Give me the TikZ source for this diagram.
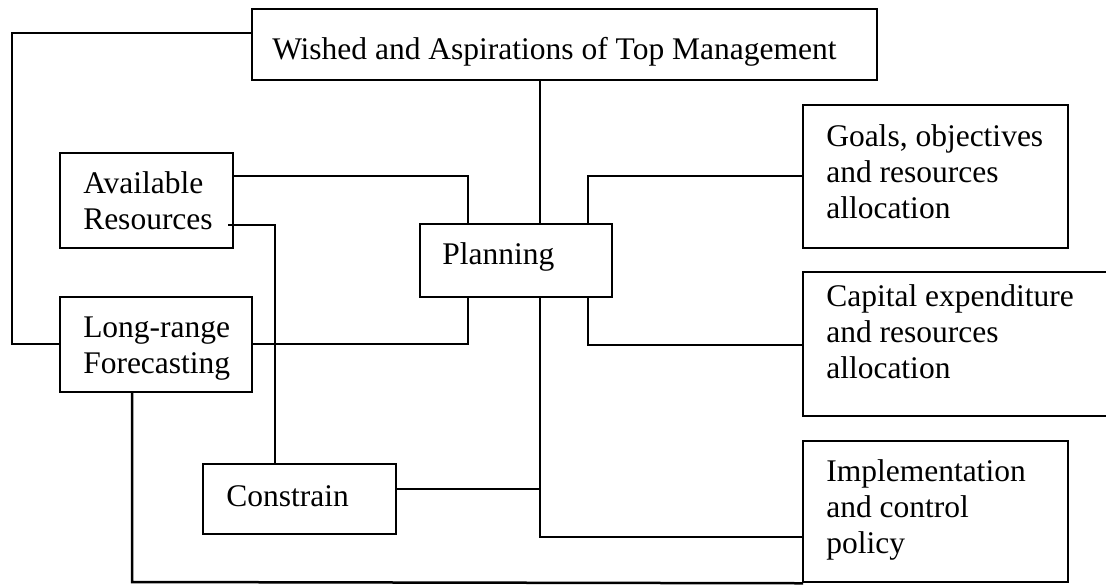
\documentclass[tikz,border=0pt]{standalone}
\usepackage{fontspec}
\setmainfont{Liberation Serif}
\usetikzlibrary{fit}
\begin{document}
\begin{tikzpicture}[x=0.5pt,y=-0.5pt, line width=1.25pt, line cap=rect,
  box/.style={draw, fit={#1}, inner sep=0pt},
  txt/.style={anchor=base west, inner sep=0pt, font=\fontsize{15.75}{18}\selectfont}]
\clip (0,0) rectangle (1106,584);
% boxes
\node[box={(252,9) (877,80)}] (top) {};
\node[box={(60,153) (233,248)}] (avail) {};
\node[box={(60,297) (252,392)}] (long) {};
\node[box={(420,224) (612,297)}] (plan) {};
\node[box={(203,464) (396,534)}] (cons) {};
\node[box={(803,105) (1068,248)}] (goals) {};
\node[box={(803,272) (1130,416)}] (cap) {};
\node[box={(803,441) (1068,582)}] (impl) {};
% texts
\node[txt] (ttop) at (271,59) {Wished and Aspirations of Top Management};
\node[txt] (tavail) at (82,193) {\parbox[t]{150pt}{Available\\Resources}};
\node[txt] (tlong) at (82,337) {\parbox[t]{150pt}{Long-range\\Forecasting}};
\node[txt] (tplan) at (441,264) {Planning};
\node[txt] (tcons) at (225,506) {Constrain};
\node[txt] (tgoals) at (825,146) {\parbox[t]{150pt}{Goals, objectives\\and resources\\allocation}};
\node[txt] (tcap) at (825,306) {\parbox[t]{150pt}{Capital expenditure\\and resources\\allocation}};
\node[txt] (timpl) at (825,481) {\parbox[t]{150pt}{Implementation\\and control\\policy}};
% connectors
\draw (top.west |- 0,33) -- (12,33) -- (12,344) -- (long.west |- 0,344);
\draw (top.south -| 540,0) -- (plan.north -| 540,0);
\draw (avail.east |- 0,176) -- (468,176) -- (plan.north -| 468,0);
\draw (229,225) -- (275,225) -- (cons.north -| 275,0);
\draw (long.east |- 0,344) -- (468,344) -- (plan.south -| 468,0);
\draw (plan.north -| 588,0) -- (588,176) -- (goals.west |- 0,176);
\draw (plan.south -| 588,0) -- (588,345) -- (cap.west |- 0,345);
\draw (plan.south -| 540,0) -- (540,537) -- (impl.west |- 0,537);
\draw (cons.east |- 0,489) -- (540,489);
\draw (long.south -| 132,0) -- (132,582) -- (impl.south west);
\end{tikzpicture}
\end{document}
